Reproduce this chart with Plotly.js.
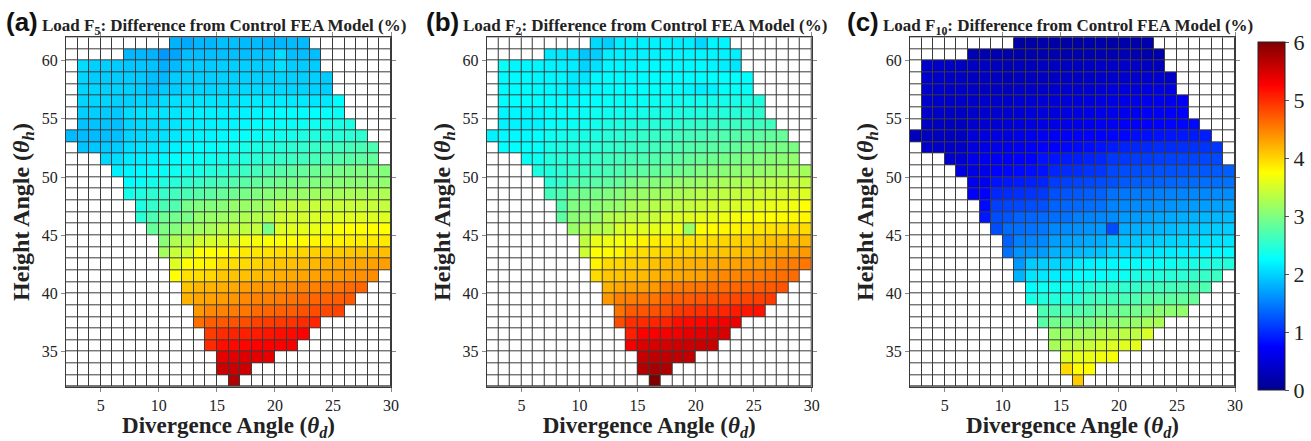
<!DOCTYPE html>
<html>
<head>
<meta charset="utf-8">
<script src="https://cdn.plot.ly/plotly-3.0.1.min.js"></script>
<style>html,body{margin:0;padding:0;background:#fff;}#chart{width:1311px;height:441px;}</style>
</head>
<body>
<div id="chart"></div>
<script>
// Cell edges (degrees)
const divergenceEdges = [2,3,4,5,6,7,8,9,10,11,12,13,14,15,16,17,18,19,20,21,22,23,24,25,26,27,28,29,30];
const heightEdges = [32,33,34,35,36,37,38,39,40,41,42,43,44,45,46,47,48,49,50,51,52,53,54,55,56,57,58,59,60,61,62];

// For each row, from the top row (θh 61–62) down to the bottom row (θh 32–33):
// index of the first divergence column that holds a value.
const rowFirstCol = [9,5,1,1,1,1,1,1,0,1,3,4,5,5,6,6,7,8,8,9,9,10,10,11,11,12,12,13,13,14];

// Load F5 (% difference), rows top → bottom
const loadF5 = [
 [1.80,1.75,1.82,1.82,1.88,1.88,1.85,1.85,1.82,1.82,1.85,1.85],
 [1.83,1.83,1.80,1.65,1.72,1.87,1.87,1.88,1.88,1.88,1.87,1.9,1.9,2.05,1.88,1.87,1.87],
 [2.05,1.97,1.97,1.95,1.92,1.92,1.9,1.78,1.85,1.95,1.95,1.95,1.97,1.97,1.97,1.97,1.97,2.08,1.97,1.95,1.95],
 [2.0,1.95,1.95,1.95,1.95,1.93,1.87,1.83,1.95,1.97,1.97,1.97,1.98,1.98,1.98,1.98,1.98,2.0,1.98,1.97,1.97,1.95],
 [2.0,2.0,1.98,1.98,1.98,1.95,1.87,1.93,1.95,2.0,2.0,2.0,2.02,2.02,2.02,2.02,2.03,2.03,2.0,2.0,1.98,1.97],
 [2.0,2.0,2.0,1.98,1.98,2.0,1.97,2.05,2.07,2.08,2.1,2.1,2.1,2.1,2.13,2.13,2.13,2.15,2.13,2.13,2.1,2.12,2.25],
 [1.97,1.97,1.95,1.93,2.05,2.08,2.1,2.1,2.1,2.15,2.17,2.17,2.17,2.18,2.18,2.2,2.22,2.25,2.25,2.25,2.25,2.28,2.3],
 [1.9,1.9,1.9,1.88,2.0,2.03,2.05,2.07,2.1,2.15,2.17,2.18,2.2,2.2,2.22,2.27,2.28,2.3,2.3,2.32,2.33,2.38,2.4,2.42],
 [1.85,1.85,1.85,1.87,1.88,2.0,2.02,2.05,2.08,2.12,2.17,2.18,2.2,2.22,2.25,2.28,2.3,2.32,2.35,2.37,2.42,2.43,2.45,2.47,2.5,2.52],
 [1.9,1.92,1.93,1.95,2.05,2.08,2.1,2.13,2.17,2.22,2.25,2.27,2.3,2.33,2.38,2.4,2.43,2.46,2.5,2.53,2.57,2.6,2.63,2.65,2.68,2.7],
 [2.02,2.05,2.13,2.15,2.18,2.2,2.25,2.28,2.3,2.33,2.37,2.4,2.45,2.5,2.53,2.57,2.6,2.63,2.67,2.7,2.73,2.76,2.8,2.83],
 [2.17,2.2,2.22,2.27,2.3,2.33,2.37,2.4,2.45,2.5,2.55,2.6,2.65,2.7,2.75,2.8,2.85,2.88,2.92,2.95,2.97,3.0,3.0,3.02],
 [2.25,2.3,2.37,2.42,2.47,2.52,2.57,2.62,2.67,2.72,2.77,2.82,2.87,2.92,2.95,2.98,3.0,3.03,3.05,3.07,3.08,3.1,3.1],
 [2.38,2.43,2.52,2.57,2.63,2.68,2.75,2.8,2.85,2.9,2.95,3.0,3.05,3.08,3.12,3.15,3.18,3.2,3.22,3.24,3.25,3.27,3.28],
 [2.42,2.55,2.68,2.72,2.95,3.0,3.02,3.05,3.12,3.15,3.17,3.2,3.35,3.38,3.4,3.42,3.42,3.43,3.43,3.42,3.42,3.4],
 [2.5,2.7,2.88,2.92,2.95,3.12,3.15,3.17,3.2,3.27,3.3,3.32,3.45,3.48,3.5,3.52,3.55,3.55,3.57,3.57,3.55,3.55],
 [2.85,2.98,3.02,3.17,3.2,3.23,3.33,3.35,3.37,3.4,2.95,3.55,3.57,3.6,3.62,3.65,3.72,3.75,3.75,3.75,3.75],
 [3.05,3.28,3.32,3.48,3.5,3.52,3.55,3.68,3.7,3.72,3.72,3.75,3.77,3.8,3.82,3.83,3.85,3.85,3.87,3.88],
 [3.2,3.43,3.48,3.72,3.75,3.77,3.8,3.88,3.9,3.92,3.95,3.97,4.0,4.03,4.05,4.07,4.08,4.1,4.12,4.13],
 [3.55,3.75,3.78,3.82,3.93,3.95,3.97,4.0,4.08,4.1,4.12,4.15,4.17,4.22,4.25,4.27,4.28,4.3,4.32],
 [3.75,3.93,3.95,3.98,4.08,4.1,4.12,4.15,4.17,4.23,4.25,4.28,4.3,4.32,4.35,4.38,4.4,4.42],
 [4.1,4.18,4.2,4.22,4.25,4.33,4.35,4.38,4.4,4.43,4.48,4.5,4.53,4.55,4.62,4.65],
 [4.2,4.28,4.3,4.33,4.37,4.45,4.48,4.5,4.53,4.57,4.62,4.65,4.67,4.7,4.72],
 [4.35,4.45,4.48,4.52,4.55,4.62,4.65,4.68,4.7,4.77,4.8,4.82,4.85],
 [4.6,4.7,4.73,4.77,4.8,4.87,4.9,4.92,4.95,5.0,5.03],
 [4.9,5.0,5.05,5.07,5.1,5.13,5.17,5.2,5.25],
 [5.0,5.17,5.2,5.22,5.25,5.27,5.28,5.3],
 [5.4,5.42,5.45,5.42,5.4],
 [5.55,5.55,5.55],
 [5.7]
];

// Load F2 (% difference), rows top → bottom
const loadF2 = [
 [2.03,1.97,2.15,2.17,2.17,2.18,2.18,2.15,2.15,2.02,2.2,2.2],
 [2.13,2.12,2.1,1.92,1.97,2.15,2.17,2.17,2.18,2.18,2.2,2.2,2.2,2.2,2.2,2.18,2.17],
 [2.3,2.2,2.2,2.2,2.18,2.17,2.15,2.0,2.08,2.2,2.2,2.2,2.22,2.22,2.22,2.22,2.22,2.22,2.2,2.15,2.1],
 [2.22,2.22,2.22,2.2,2.2,2.2,2.12,2.1,2.22,2.23,2.23,2.23,2.23,2.24,2.24,2.24,2.24,2.24,2.25,2.25,2.25,2.25],
 [2.23,2.23,2.23,2.22,2.22,2.2,2.13,2.2,2.22,2.23,2.25,2.25,2.25,2.27,2.27,2.27,2.2,2.15,2.17,2.27,2.28,2.3],
 [2.25,2.25,2.25,2.25,2.25,2.25,2.23,2.25,2.25,2.28,2.3,2.3,2.3,2.32,2.33,2.33,2.35,2.35,2.37,2.37,2.38,2.4,2.45],
 [2.2,2.2,2.2,2.2,2.27,2.28,2.3,2.3,2.32,2.33,2.35,2.35,2.37,2.4,2.4,2.42,2.42,2.43,2.45,2.45,2.48,2.5,2.52],
 [2.18,2.18,2.18,2.18,2.28,2.3,2.32,2.33,2.35,2.4,2.42,2.43,2.45,2.47,2.48,2.5,2.53,2.55,2.57,2.58,2.6,2.6,2.62,2.63],
 [2.18,2.22,2.22,2.23,2.25,2.32,2.35,2.37,2.4,2.42,2.47,2.5,2.52,2.55,2.57,2.6,2.63,2.65,2.67,2.7,2.72,2.75,2.77,2.8,2.82,2.85],
 [2.25,2.25,2.27,2.28,2.37,2.4,2.43,2.45,2.48,2.53,2.55,2.58,2.6,2.63,2.67,2.7,2.73,2.75,2.78,2.8,2.83,2.88,2.9,2.93,2.95,2.97],
 [2.3,2.33,2.45,2.48,2.5,2.53,2.57,2.62,2.65,2.68,2.7,2.73,2.77,2.8,2.83,2.87,2.9,2.93,2.95,3.0,3.02,3.05,3.07,3.1],
 [2.42,2.45,2.5,2.57,2.6,2.63,2.67,2.7,2.77,2.8,2.83,2.87,2.9,2.93,3.0,3.02,3.05,3.08,3.1,3.12,3.15,3.17,3.2,3.22],
 [2.5,2.55,2.7,2.73,2.77,2.8,2.83,2.95,3.0,3.03,3.07,3.1,3.13,3.17,3.2,3.23,3.25,3.28,3.3,3.33,3.35,3.37,3.4],
 [2.65,2.7,2.88,2.92,2.95,3.0,3.03,3.12,3.15,3.18,3.22,3.25,3.28,3.33,3.35,3.38,3.4,3.43,3.45,3.48,3.5,3.52,3.55],
 [2.72,3.0,3.03,3.07,3.1,3.13,3.25,3.28,3.32,3.35,3.38,3.4,3.45,3.48,3.5,3.53,3.55,3.6,3.63,3.65,3.68,3.75],
 [2.8,3.07,3.1,3.13,3.3,3.33,3.37,3.4,3.43,3.52,3.55,3.57,3.6,3.62,3.65,3.7,3.72,3.73,3.75,3.77,3.78,3.8],
 [3.15,3.27,3.3,3.33,3.52,3.55,3.57,3.6,3.62,3.65,3.15,3.75,3.77,3.8,3.82,3.85,3.9,3.92,3.93,3.95,3.97],
 [3.37,3.62,3.65,3.68,3.7,3.82,3.85,3.87,3.9,3.92,3.93,3.97,4.0,4.02,4.05,4.07,4.12,4.13,4.15,4.17],
 [3.45,3.75,3.78,3.8,3.93,3.95,3.97,4.0,4.02,4.03,4.05,4.08,4.1,4.12,4.15,4.17,4.27,4.3,4.32,4.35],
 [3.82,3.97,4.0,4.02,4.05,4.12,4.15,4.17,4.2,4.22,4.25,4.27,4.3,4.33,4.35,4.38,4.5,4.52,4.55],
 [3.97,4.08,4.1,4.13,4.15,4.2,4.23,4.25,4.28,4.3,4.42,4.45,4.47,4.5,4.52,4.57,4.6,4.62],
 [4.2,4.27,4.3,4.32,4.35,4.5,4.52,4.55,4.57,4.6,4.62,4.65,4.67,4.7,4.72,4.75],
 [4.35,4.5,4.52,4.55,4.57,4.68,4.7,4.72,4.75,4.77,4.8,4.83,4.85,4.88,4.9],
 [4.57,4.72,4.75,4.77,4.8,4.92,4.95,4.97,5.0,5.03,5.1,5.12,5.15],
 [4.8,4.98,5.0,5.03,5.05,5.17,5.2,5.22,5.25,5.32,5.35],
 [5.07,5.25,5.27,5.3,5.32,5.4,5.42,5.45,5.47],
 [5.32,5.45,5.47,5.5,5.52,5.55,5.57,5.58],
 [5.6,5.62,5.62,5.63,5.62],
 [5.7,5.77,5.72],
 [6.0]
];

// Load F10 (% difference), rows top → bottom
const loadF10 = [
 [0.15,0.15,0.18,0.15,0.15,0.15,0.18,0.18,0.15,0.18,0.2,0.2],
 [0.25,0.22,0.22,0.2,0.18,0.2,0.2,0.2,0.2,0.22,0.22,0.22,0.22,0.25,0.22,0.2,0.18],
 [0.4,0.38,0.37,0.35,0.35,0.33,0.3,0.28,0.3,0.3,0.32,0.33,0.33,0.35,0.35,0.37,0.37,0.38,0.38,0.35,0.3],
 [0.42,0.4,0.38,0.37,0.35,0.35,0.33,0.3,0.32,0.33,0.35,0.35,0.37,0.38,0.4,0.4,0.42,0.43,0.45,0.45,0.45,0.4],
 [0.4,0.4,0.38,0.38,0.37,0.35,0.35,0.35,0.37,0.38,0.4,0.42,0.43,0.45,0.47,0.48,0.5,0.52,0.53,0.55,0.55,0.55],
 [0.4,0.4,0.38,0.38,0.38,0.4,0.4,0.42,0.43,0.45,0.47,0.48,0.5,0.52,0.53,0.55,0.57,0.58,0.6,0.62,0.63,0.63,0.67],
 [0.37,0.37,0.37,0.35,0.4,0.42,0.43,0.45,0.47,0.5,0.52,0.53,0.55,0.57,0.58,0.6,0.62,0.63,0.65,0.67,0.68,0.7,0.72],
 [0.33,0.33,0.33,0.33,0.43,0.45,0.47,0.5,0.52,0.55,0.57,0.58,0.6,0.62,0.65,0.67,0.68,0.7,0.72,0.73,0.75,0.77,0.78,0.8],
 [0.3,0.32,0.32,0.33,0.33,0.5,0.52,0.55,0.57,0.6,0.62,0.67,0.68,0.7,0.72,0.73,0.75,0.77,0.78,0.82,0.83,0.85,0.87,0.88,0.9,0.92],
 [0.38,0.38,0.38,0.4,0.55,0.58,0.6,0.62,0.65,0.7,0.73,0.75,0.78,0.8,0.82,0.85,0.9,0.95,0.97,0.98,1.0,1.0,1.02,1.03,1.05,1.07],
 [0.45,0.47,0.62,0.65,0.68,0.7,0.73,0.75,0.85,0.87,0.9,0.92,0.95,0.97,1.07,1.08,1.1,1.1,1.12,1.13,1.15,1.15,1.17,1.18],
 [0.55,0.57,0.6,0.75,0.78,0.8,0.82,0.85,0.97,1.0,1.02,1.05,1.07,1.17,1.2,1.2,1.22,1.23,1.23,1.25,1.27,1.27,1.28,1.3],
 [0.62,0.65,0.85,0.88,0.9,0.93,0.95,1.1,1.13,1.15,1.17,1.2,1.22,1.28,1.3,1.32,1.33,1.35,1.37,1.38,1.4,1.4,1.42],
 [0.72,0.75,0.97,1.0,1.02,1.05,1.08,1.22,1.25,1.27,1.3,1.32,1.42,1.45,1.47,1.48,1.5,1.52,1.53,1.55,1.55,1.57,1.58],
 [0.8,1.12,1.15,1.17,1.2,1.22,1.33,1.35,1.37,1.4,1.42,1.52,1.55,1.57,1.58,1.6,1.62,1.65,1.67,1.68,1.7,1.72],
 [0.88,1.2,1.25,1.33,1.35,1.37,1.4,1.42,1.5,1.52,1.55,1.57,1.65,1.67,1.7,1.72,1.75,1.78,1.8,1.82,1.83,1.85],
 [1.2,1.38,1.4,1.42,1.45,1.55,1.57,1.6,1.62,1.65,1.2,1.75,1.78,1.8,1.82,1.85,1.9,1.92,1.93,1.95,1.97],
 [1.32,1.5,1.53,1.55,1.68,1.7,1.72,1.75,1.77,1.88,1.9,1.92,1.95,1.97,2.0,2.02,2.05,2.07,2.08,2.1],
 [1.42,1.62,1.65,1.67,1.8,1.82,1.85,1.88,1.9,2.02,2.05,2.07,2.1,2.12,2.15,2.17,2.18,2.2,2.22,2.23],
 [1.65,1.95,1.97,2.0,2.02,2.15,2.17,2.2,2.22,2.25,2.27,2.28,2.3,2.32,2.38,2.4,2.42,2.43,2.45],
 [1.8,2.1,2.12,2.15,2.17,2.25,2.27,2.28,2.3,2.32,2.4,2.42,2.45,2.47,2.5,2.55,2.57,2.6],
 [2.25,2.32,2.33,2.35,2.37,2.47,2.5,2.52,2.53,2.55,2.62,2.63,2.65,2.67,2.7,2.72],
 [2.4,2.43,2.45,2.47,2.5,2.62,2.63,2.65,2.67,2.7,2.77,2.78,2.8,2.82,2.85],
 [2.7,2.7,2.72,2.73,2.75,2.85,2.87,2.9,2.92,2.95,3.07,3.08,3.1],
 [2.77,2.92,2.93,2.95,2.97,3.07,3.08,3.1,3.12,3.22,3.25],
 [3.15,3.18,3.2,3.22,3.3,3.32,3.35,3.37,3.52],
 [3.22,3.37,3.4,3.42,3.52,3.55,3.57,3.6],
 [3.52,3.6,3.62,3.67,3.7],
 [3.97,3.75,3.75],
 [4.05]
];

const colorTicks = [0,1,2,3,4,5,6];
const panelTags = ['(a)','(b)','(c)'];
const panelTitles = [
  'Load F<sub>5</sub>: Difference from Control FEA Model (%)',
  'Load F<sub>2</sub>: Difference from Control FEA Model (%)',
  'Load F<sub>10</sub>: Difference from Control FEA Model (%)'
];
const xTitle = 'Divergence Angle (<i>θ<sub>d</sub></i>)';
const yTitle = 'Height Angle (<i>θ<sub>h</sub></i>)';

// ---------- build ----------
const nCols = divergenceEdges.length - 1;
function toGrid(rows){
  const g = rows.map((vals, j) => {
    const r = new Array(nCols).fill(null);
    vals.forEach((v, k) => { r[rowFirstCol[j] + k] = v; });
    return r;
  });
  return g.reverse(); // bottom row first
}
function emptyCells(grid){
  return grid.map(r => r.map(v => v === null ? 0 : null));
}

const jet = [[0,'rgb(0,0,143)'],[0.125,'rgb(0,0,255)'],[0.375,'rgb(0,255,255)'],
             [0.625,'rgb(255,255,0)'],[0.875,'rgb(255,0,0)'],[1,'rgb(128,0,0)']];

const W = 1311, H = 441;
const xDomPx = [[66,391],[486.7,811.7],[910,1235]];
const yDomPx = [37.3,386.7];
const yDom = [1 - yDomPx[1]/H, 1 - yDomPx[0]/H];

const datasets = [loadF5, loadF2, loadF10];
const traces = [];
const layout = {
  width: W, height: H,
  margin: {l:0, r:0, t:0, b:0},
  paper_bgcolor: '#ffffff',
  plot_bgcolor: '#3a3a3a',
  showlegend: false,
  annotations: []
};
const serif = 'Liberation Serif, Times New Roman, serif';

datasets.forEach((ds, i) => {
  const grid = toGrid(ds);
  const sfx = i === 0 ? '' : String(i+1);
  const xa = 'x' + sfx, ya = 'y' + sfx;
  traces.push({
    type: 'heatmap', x: divergenceEdges, y: heightEdges, z: emptyCells(grid),
    xaxis: xa, yaxis: ya, colorscale: [[0,'#ffffff'],[1,'#ffffff']],
    showscale: false, xgap: 1, ygap: 1, hoverinfo: 'skip'
  });
  const tr = {
    type: 'heatmap', x: divergenceEdges, y: heightEdges, z: grid,
    xaxis: xa, yaxis: ya, colorscale: jet, zmin: 0, zmax: 6,
    xgap: 1, ygap: 1, showscale: i === 2
  };
  if (i === 2) {
    tr.colorbar = {
      x: 1258/W, xanchor: 'left', xpad: 0,
      y: 1 - 390/H, yanchor: 'bottom', ypad: 0,
      len: 348, lenmode: 'pixels', thickness: 27, thicknessmode: 'pixels',
      outlinecolor: '#222', outlinewidth: 1,
      tickvals: colorTicks, ticktext: colorTicks.map(String),
      ticks: 'outside', ticklen: 4, tickcolor: '#555',
      tickfont: {family: serif, size: 22, color: '#222'}
    };
  }
  traces.push(tr);
  const axCommon = {
    showgrid: false, zeroline: false, showline: true, linecolor: '#3a3a3a', linewidth: 1,
    mirror: 'ticks', ticks: 'outside', ticklen: 4, tickcolor: '#888', tickwidth: 1,
    tickfont: {family: serif, size: 16, color: '#222'}
  };
  layout['xaxis' + sfx] = Object.assign({}, axCommon, {
    domain: [xDomPx[i][0]/W, xDomPx[i][1]/W], anchor: ya,
    range: [2, 30], tickmode: 'array', tickvals: [5,10,15,20,25,30],
    title: {text: xTitle, standoff: 4, font: {family: serif, size: 23, color: '#222', weight: 'bold'}}
  });
  layout['yaxis' + sfx] = Object.assign({}, axCommon, {
    domain: yDom, anchor: xa,
    range: [32, 62], tickmode: 'array', tickvals: [35,40,45,50,55,60],
    title: {text: yTitle, standoff: 5, font: {family: serif, size: 24, color: '#222', weight: 'bold'}}
  });
  const tagX = [4, 424, 845][i];
  const ttlX = [40, 461, 881][i];
  layout.annotations.push({
    xref: 'paper', yref: 'paper', x: tagX/W, y: 1 - 22/H, xanchor: 'left', yanchor: 'middle',
    text: '<b>' + panelTags[i] + '</b>', showarrow: false,
    font: {family: 'Liberation Sans, Arial, sans-serif', size: 26, color: '#111'}
  });
  layout.annotations.push({
    xref: 'paper', yref: 'paper', x: ttlX/W, y: 1 - 27/H, xanchor: 'left', yanchor: 'middle',
    text: '<b>' + panelTitles[i] + '</b>', showarrow: false,
    font: {family: serif, size: 17, color: '#222'}
  });
});

Plotly.newPlot('chart', traces, layout, {staticPlot: true, displayModeBar: false});
</script>
</body>
</html>
